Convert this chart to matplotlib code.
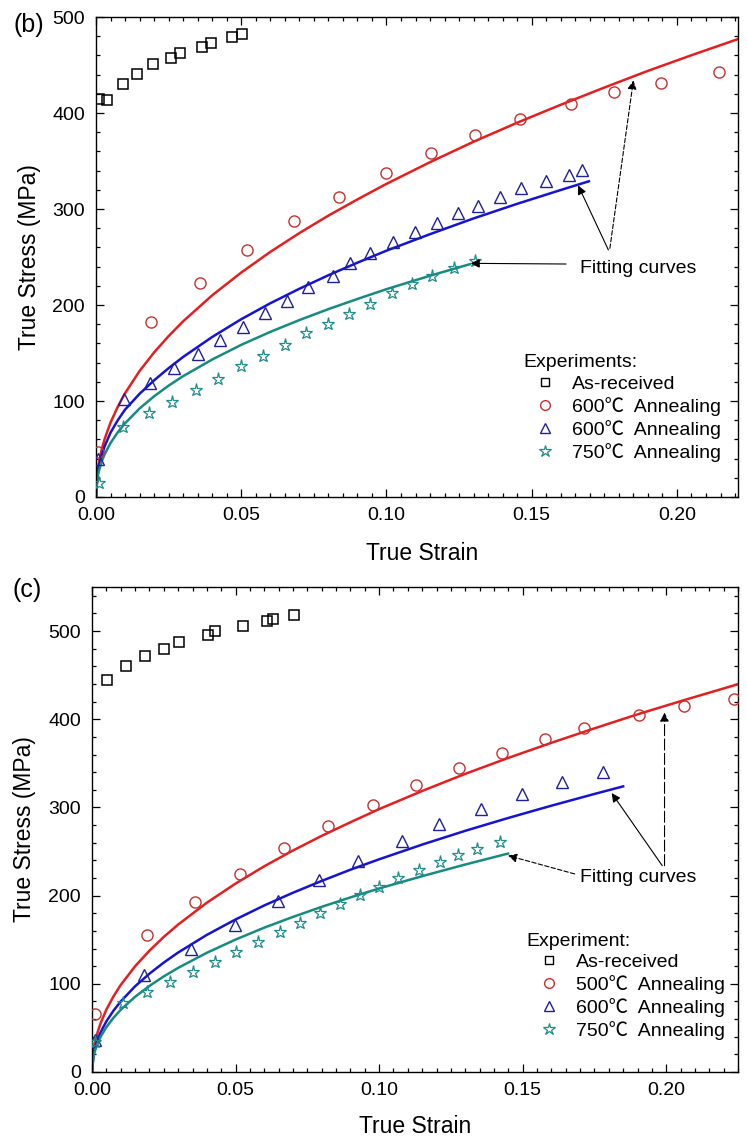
import matplotlib
matplotlib.use("Agg")
import matplotlib.pyplot as plt
from matplotlib.ticker import MultipleLocator, FormatStrFormatter
from matplotlib.lines import Line2D

plt.rcParams['font.family'] = ['Liberation Sans', 'Noto Sans CJK SC', 'DejaVu Sans']

# ---------------- Panel (b) data ----------------
b_asr_x = [0.0011, 0.0039, 0.0093, 0.0142, 0.0196, 0.0259, 0.0288, 0.0366, 0.0397, 0.0468, 0.0502]
b_asr_y = [414.6, 413.5, 430.2, 441.0, 451.0, 457.6, 462.2, 469.0, 472.6, 478.9, 482.3]

b_red_x = [0.0007, 0.0188, 0.0358, 0.0521, 0.0680, 0.0837, 0.0998, 0.1153, 0.1305, 0.1460, 0.1635, 0.1782, 0.1944, 0.2146]
b_red_y = [47, 182, 223, 257, 287.5, 312.8, 337.8, 358.6, 377, 394, 409, 421.5, 431, 443]

b_blue_x = [0.0008, 0.0096, 0.0186, 0.0269, 0.0350, 0.0427, 0.0507, 0.0582, 0.0656, 0.0731, 0.0817, 0.0874,
            0.0943, 0.1021, 0.1098, 0.1173, 0.1245, 0.1316, 0.1390, 0.1462, 0.1549, 0.1627, 0.1673]
b_blue_y = [40, 102, 119, 134, 149, 163.5, 177, 192, 204.5, 219, 230, 243.4, 254, 266, 275.7, 285.7, 295.5,
            303.5, 312, 321.5, 329.5, 335.4, 341]

b_star_x = [0.0010, 0.0092, 0.0181, 0.0263, 0.0345, 0.0421, 0.0498, 0.0576, 0.0651, 0.0723, 0.0799, 0.0870,
            0.0943, 0.1018, 0.1087, 0.1158, 0.1232, 0.1305]
b_star_y = [15, 73, 87, 99, 111.5, 123, 136, 147, 158, 170.5, 180, 191, 200.7, 212, 221.5, 230, 239, 246]

fit_x_b_red = [0, 0.0005, 0.001, 0.002, 0.003, 0.005, 0.0075, 0.01, 0.015, 0.02, 0.025, 0.03, 0.04, 0.05,
               0.06, 0.07, 0.08, 0.09, 0.10, 0.115, 0.13, 0.145, 0.16, 0.175, 0.19, 0.205, 0.221]
fit_y_b_red = [0, 25.7, 35.8, 49.9, 60.6, 77.5, 94.0, 108.1, 131.2, 150.6, 167.6, 183.0, 210.1, 233.8,
               255.3, 274.9, 293.1, 310.0, 326.2, 348.8, 370.1, 389.9, 408.6, 426.5, 443.9, 460.2, 477.0]
fit_x_b_blue = [0, 0.0005, 0.001, 0.002, 0.003, 0.005, 0.0075, 0.01, 0.015, 0.02, 0.025, 0.03, 0.04, 0.05,
                0.06, 0.07, 0.08, 0.09, 0.10, 0.115, 0.13, 0.145, 0.16, 0.1697]
fit_y_b_blue = [0, 23, 32, 44, 53, 67, 80, 91, 107.5, 121.5, 134.2, 145.9, 166.7, 185.2,
                201.8, 216.9, 231.0, 244.1, 256.6, 273.8, 290.2, 305.4, 319.8, 328.9]
fit_x_b_teal = [0, 0.0005, 0.001, 0.002, 0.003, 0.005, 0.0075, 0.01, 0.015, 0.02, 0.025, 0.03, 0.04, 0.05,
                0.06, 0.07, 0.08, 0.09, 0.10, 0.115, 0.1287]
fit_y_b_teal = [0, 20.0, 27.2, 37.2, 44.7, 56.2, 67.5, 76.8, 92.2, 104.9, 116.0, 125.9, 143.2, 158.5,
                172.0, 184.3, 195.7, 206.3, 216.5, 230.5, 242.5]

# ---------------- Panel (c) data ----------------
c_asr_x = [0.0051, 0.0117, 0.0184, 0.0250, 0.0303, 0.0403, 0.0430, 0.0525, 0.0609, 0.0632, 0.0703]
c_asr_y = [444, 460, 471.4, 479.3, 487.9, 495.5, 499.7, 505.4, 511.4, 514, 517.9]

c_red_x = [0.0009, 0.0190, 0.0360, 0.0516, 0.0669, 0.0821, 0.0977, 0.1130, 0.1277, 0.1428, 0.1578, 0.1713,
           0.1906, 0.2063, 0.2237]
c_red_y = [66, 154.8, 192.5, 224.6, 254, 279.3, 303, 325.7, 344.6, 361.6, 377.4, 390, 404.6, 415.5, 423]

c_blue_x = [0.0010, 0.0181, 0.0344, 0.0499, 0.0648, 0.0790, 0.0926, 0.1080, 0.1209, 0.1354, 0.1499, 0.1638, 0.1779]
c_blue_y = [36, 109.5, 139.7, 166.9, 193.6, 218.2, 239.7, 262.3, 281.2, 298.2, 315.2, 328.3, 340.4]

c_star_x = [0.0010, 0.0109, 0.0190, 0.0272, 0.0351, 0.0430, 0.0503, 0.0577, 0.0654, 0.0724, 0.0793, 0.0863,
            0.0933, 0.0999, 0.1067, 0.1140, 0.1212, 0.1276, 0.1342, 0.1422]
c_star_y = [34, 78, 90.6, 101.9, 113.2, 124.5, 135.9, 147.2, 158.5, 169.1, 180, 190.6, 200.8, 210.2, 220,
            229, 237.7, 246, 252.9, 260.4]

fit_x_c_red = [0, 0.0005, 0.001, 0.002, 0.003, 0.005, 0.0075, 0.01, 0.015, 0.02, 0.025, 0.03, 0.04, 0.05,
               0.06, 0.07, 0.08, 0.09, 0.10, 0.115, 0.13, 0.145, 0.16, 0.175, 0.19, 0.205, 0.225]
fit_y_c_red = [0, 23.4, 32.7, 45.6, 55.4, 70.8, 85.9, 98.7, 119.9, 137.6, 153.2, 167.2, 192.0, 213.7,
               233.3, 251.2, 267.8, 283.2, 298.1, 318.7, 338.1, 356.2, 373.3, 389.7, 405.6, 420.5, 439.8]
fit_x_c_blue = [0, 0.0005, 0.001, 0.002, 0.003, 0.005, 0.0075, 0.01, 0.015, 0.02, 0.025, 0.03, 0.04, 0.05,
                0.06, 0.07, 0.08, 0.09, 0.10, 0.115, 0.13, 0.145, 0.16, 0.175, 0.185]
fit_y_c_blue = [0, 19.1, 26.6, 37.0, 45.0, 57.5, 69.7, 80.0, 97.2, 111.5, 124.1, 135.5, 155.5, 173.0,
                188.9, 203.3, 216.7, 229.4, 241.2, 257.9, 273.5, 288.1, 302.0, 315.3, 323.9]
fit_x_c_teal = [0, 0.0005, 0.001, 0.002, 0.003, 0.005, 0.0075, 0.01, 0.015, 0.02, 0.025, 0.03, 0.04, 0.05,
                0.06, 0.07, 0.08, 0.09, 0.10, 0.115, 0.13, 0.1449]
fit_y_c_teal = [0, 17.3, 23.9, 33.1, 40.0, 50.9, 61.6, 70.5, 85.3, 97.6, 108.4, 118.1, 135.2, 150.2,
                163.7, 175.9, 187.3, 198.0, 208.1, 222.1, 235.3, 247.7]

labels_b = ["As-received", "600\u2103  Annealing", "600\u2103  Annealing", "750\u2103  Annealing"]
labels_c = ["As-received", "500\u2103  Annealing", "600\u2103  Annealing", "750\u2103  Annealing"]

# ---------------- styles ----------------
RED_L, BLUE_L, TEAL_L = '#e41f1f', '#1414d2', '#168c80'
RED_M, BLUE_M, TEAL_M = '#c83030', '#20209a', '#1f8c8c'
FS = 14

fig = plt.figure(figsize=(7.47, 11.42), dpi=100)
ax_b = fig.add_axes([0.1285, 0.5648, 0.8594, 0.4203])
ax_c = fig.add_axes([0.1232, 0.0613, 0.8648, 0.4247])


def draw(ax, asr, red, blue, star, fits, xmax, ymax, ylab_x, xlab_xy):
    (fxr, fyr), (fxb, fyb), (fxt, fyt) = fits
    ax.plot(fxr, fyr, color=RED_L, lw=1.8, zorder=2)
    ax.plot(fxb, fyb, color=BLUE_L, lw=1.8, zorder=2)
    ax.plot(fxt, fyt, color=TEAL_L, lw=1.8, zorder=2)
    ax.plot(*asr, ls='none', marker='s', ms=6.5, mfc='none', mec='black', mew=1.1, zorder=3)
    ax.plot(*red, ls='none', marker='o', ms=8, mfc='none', mec=RED_M, mew=1.0, zorder=3)
    ax.plot(*blue, ls='none', marker='^', ms=8.5, mfc='none', mec=BLUE_M, mew=1.0, zorder=3)
    ax.plot(*star, ls='none', marker='*', ms=9.5, mfc='none', mec=TEAL_M, mew=0.9, zorder=3)
    ax.set_xlim(0, xmax)
    ax.set_ylim(0, ymax)
    ax.xaxis.set_major_locator(MultipleLocator(0.05))
    ax.xaxis.set_minor_locator(MultipleLocator(0.005))
    ax.yaxis.set_major_locator(MultipleLocator(100))
    ax.yaxis.set_minor_locator(MultipleLocator(20))
    ax.xaxis.set_major_formatter(FormatStrFormatter('%.2f'))
    ax.tick_params(which='both', direction='in', top=True, right=True, labelsize=FS, width=0.9)
    ax.tick_params(which='major', length=6)
    ax.tick_params(which='minor', length=3)
    ax.tick_params(axis='y', pad=8)
    ax.tick_params(axis='x', pad=7)
    ax.set_xlabel('True Strain', fontsize=16.5, va='center')
    ax.set_ylabel('True Stress (MPa)', fontsize=16.5, va='center')
    ax.yaxis.set_label_coords(ylab_x, 0.5)
    ax.xaxis.set_label_coords(*xlab_xy)
    for s in ax.spines.values():
        s.set_linewidth(1.0)


draw(ax_b, (b_asr_x, b_asr_y), (b_red_x, b_red_y), (b_blue_x, b_blue_y), (b_star_x, b_star_y),
     [(fit_x_b_red, fit_y_b_red), (fit_x_b_blue, fit_y_b_blue), (fit_x_b_teal, fit_y_b_teal)], 0.221, 500,
     -0.104, (0.508, -0.117))
draw(ax_c, (c_asr_x, c_asr_y), (c_red_x, c_red_y), (c_blue_x, c_blue_y), (c_star_x, c_star_y),
     [(fit_x_c_red, fit_y_c_red), (fit_x_c_blue, fit_y_c_blue), (fit_x_c_teal, fit_y_c_teal)], 0.225, 550,
     -0.105, (0.5, -0.113))


def legend(ax, title, labels, anchor):
    handles = [
        Line2D([], [], ls='none', marker='s', ms=6, mfc='none', mec='black', mew=1.0),
        Line2D([], [], ls='none', marker='o', ms=7, mfc='none', mec=RED_M, mew=1.0),
        Line2D([], [], ls='none', marker='^', ms=7.5, mfc='none', mec=BLUE_M, mew=1.0),
        Line2D([], [], ls='none', marker='*', ms=9, mfc='none', mec=TEAL_M, mew=0.9),
    ]
    leg = ax.legend(handles, labels, title=title, loc='upper left', bbox_to_anchor=anchor,
                    frameon=False, fontsize=FS, title_fontsize=FS, handlelength=2.27,
                    handletextpad=0.26, labelspacing=0.2, borderpad=0, borderaxespad=0,
                    alignment='left')
    return leg


legend(ax_b, 'Experiments:', labels_b, (0.665, 0.297))
legend(ax_c, 'Experiment:', labels_c, (0.673, 0.287))

# ---------------- annotations ----------------
arrow_solid = dict(arrowstyle='-|>', color='black', lw=0.8, mutation_scale=13, shrinkA=0, shrinkB=0)
arrow_dash = dict(arrowstyle='-|>', color='black', lw=0.8, mutation_scale=13, shrinkA=0, shrinkB=0,
                  linestyle=(0, (4, 2)))

ax_b.text(0.1666, 238.5, 'Fitting curves', fontsize=FS, va='center', ha='left')
ax_b.annotate('', xy=(0.1290, 243.4), xytext=(0.1618, 242.7), arrowprops=arrow_solid)
ax_b.annotate('', xy=(0.1660, 324.5), xytext=(0.1764, 257.3), arrowprops=arrow_solid)
ax_b.annotate('', xy=(0.1850, 434), xytext=(0.1769, 259), arrowprops=arrow_dash)

ax_c.text(0.1699, 220.8, 'Fitting curves', fontsize=FS, va='center', ha='left')
ax_c.annotate('', xy=(0.1449, 245.4), xytext=(0.1681, 224.6), arrowprops=arrow_dash)
ax_c.annotate('', xy=(0.1810, 316.3), xytext=(0.1986, 234), arrowprops=arrow_solid)
ax_c.annotate('', xy=(0.1994, 407.6), xytext=(0.1994, 234), arrowprops=dict(arrow_dash, linestyle=(0, (10, 3))))

fig.text(29 / 747, 1 - 25 / 1142, '(b)', fontsize=18, ha='center', va='center')
fig.text(27 / 747, 1 - 590 / 1142, '(c)', fontsize=18, ha='center', va='center')

fig.savefig('out.png', dpi=100)
